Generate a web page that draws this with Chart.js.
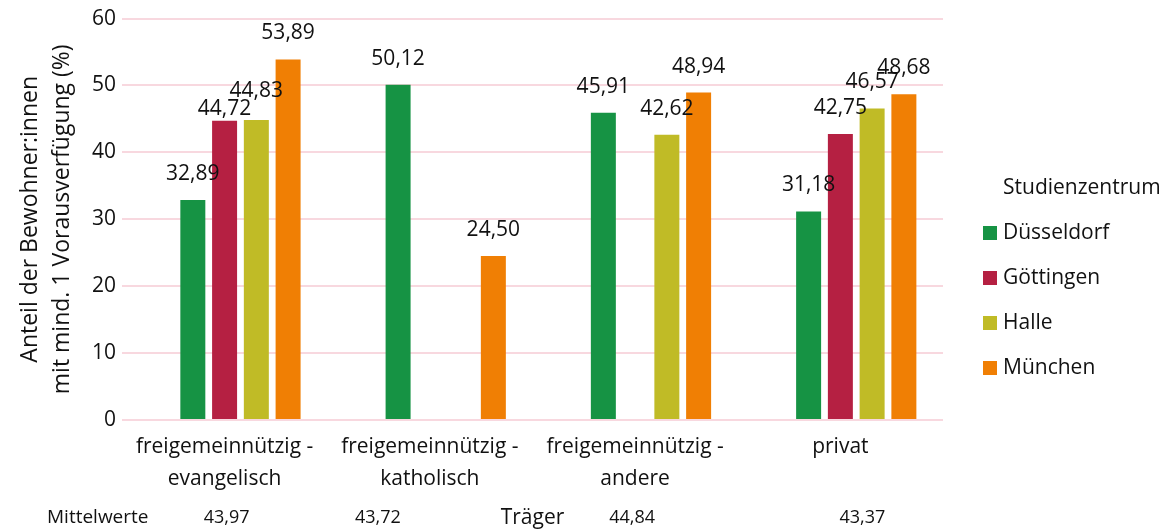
<!DOCTYPE html>
<html>
<head>
<meta charset="utf-8">
<script src="https://cdn.jsdelivr.net/npm/chart.js@4"></script>
<style>
  html, body { margin: 0; padding: 0; background: #fff; }
  #wrap { width: 1166px; height: 531px; }
</style>
</head>
<body>
<div id="wrap"><canvas id="c" width="1166" height="531"></canvas></div>
<script>
// ---- data ----
const categories = [
  ['freigemeinnützig -', 'evangelisch'],
  ['freigemeinnützig -', 'katholisch'],
  ['freigemeinnützig -', 'andere'],
  'privat'
];
const seriesNames = ['Düsseldorf', 'Göttingen', 'Halle', 'München'];
const duesseldorf = [32.89, 50.12, 45.91, 31.18];
const goettingen  = [44.72, null, null, 42.75];
const halle       = [44.83, null, 42.62, 46.57];
const muenchen    = [53.89, 24.50, 48.94, 48.68];
const mittelwerte = [43.97, 43.72, 44.84, 43.37];
const yTicks = [0, 10, 20, 30, 40, 50, 60];
const legendTitle = 'Studienzentrum';
const xTitle = 'Träger';
const yTitle = ['Anteil der Bewohner:innen', 'mit mind. 1 Vorausverfügung (%)'];
const meanLabel = 'Mittelwerte';

// ---- styles ----
const colors = ['#169344', '#B52042', '#C0BB26', '#F07F04'];
const FONT = '"Open Sans", "Noto Sans", sans-serif';
const TEXT = '#111';
const GRID = '#F8D8DF';

const fmt = v => v.toFixed(2).replace('.', ',');

const seriesData = [duesseldorf, goettingen, halle, muenchen];
const datasets = [
  // empty leading slot (as in the source chart, bars sit one slot to the right)
  { label: '', data: categories.map(() => null), backgroundColor: 'rgba(0,0,0,0)', spacer: true }
].concat(seriesNames.map((n, i) => ({
  label: n,
  data: seriesData[i],
  backgroundColor: colors[i],
  borderWidth: 0
})));

const labelNudge = { '2,0': 14, '3,0': -3 };

const valueLabels = {
  id: 'valueLabels',
  afterDatasetsDraw(chart) {
    const ctx = chart.ctx;
    ctx.save();
    ctx.font = '21px ' + FONT;
    ctx.fillStyle = TEXT;
    ctx.textAlign = 'center';
    ctx.textBaseline = 'middle';
    chart.data.datasets.forEach((ds, i) => {
      if (ds.spacer) return;
      const meta = chart.getDatasetMeta(i);
      meta.data.forEach((bar, j) => {
        const v = ds.data[j];
        if (v == null) return;
        const n = labelNudge[i + ',' + j] || 0;
        ctx.fillText(fmt(v), bar.x, bar.y - 26 + n);
      });
    });
    ctx.restore();
  }
};

const meanNudge = [2, -52, -3, 22];
const extras = {
  id: 'extras',
  afterDraw(chart) {
    const ctx = chart.ctx;
    const ca = chart.chartArea;
    const xs = chart.scales.x;
    ctx.save();
    // legend
    const lx = ca.right + 40;
    ctx.font = '21px ' + FONT;
    ctx.fillStyle = TEXT;
    ctx.textBaseline = 'middle';
    ctx.textAlign = 'left';
    ctx.fillText(legendTitle, lx + 20, 188);
    chart.data.datasets.filter(d => !d.spacer).forEach((ds, k) => {
      const cy = 233 + 45 * k;
      ctx.fillStyle = ds.backgroundColor;
      ctx.fillRect(lx, cy - 7, 14, 14);
      ctx.fillStyle = TEXT;
      ctx.fillText(ds.label, lx + 20, cy);
    });
    // Mittelwerte row
    ctx.font = '19px ' + FONT;
    ctx.textAlign = 'left';
    ctx.fillText(meanLabel, 47, 518);
    ctx.font = '18px ' + FONT;
    ctx.textAlign = 'center';
    mittelwerte.forEach((v, j) => {
      ctx.fillText(fmt(v), xs.getPixelForValue(j) + meanNudge[j], 518);
    });
    ctx.restore();
  }
};

new Chart(document.getElementById('c'), {
  type: 'bar',
  data: { labels: categories, datasets },
  options: {
    responsive: false,
    devicePixelRatio: 1,
    animation: false,
    layout: { padding: { top: 17, right: 223, bottom: 0, left: 0 } },
    datasets: { bar: { categoryPercentage: 0.7735, barPercentage: 0.787 } },
    plugins: {
      legend: { display: false },
      tooltip: { enabled: false }
    },
    scales: {
      x: {
        grid: { display: false, drawTicks: false },
        border: { display: false },
        ticks: {
          color: TEXT, font: { family: FONT, size: 21, lineHeight: 1.52 },
          padding: 11, maxRotation: 0, autoSkip: false
        },
        title: {
          display: true, text: xTitle, color: TEXT,
          font: { family: FONT, size: 21, lineHeight: 1.2 },
          padding: { top: 0, bottom: 0 }
        }
      },
      y: {
        min: 0, max: 60,
        afterBuildTicks: s => { s.ticks = yTicks.map(v => ({ value: v })); },
        grid: { color: GRID, lineWidth: 2, drawTicks: false },
        border: { display: false },
        ticks: { color: TEXT, font: { family: FONT, size: 21 }, padding: 6 },
        title: {
          display: true, text: yTitle, color: TEXT,
          font: { family: FONT, size: 23, lineHeight: 1.39 },
          padding: { top: 14, bottom: 8 }
        }
      }
    }
  },
  plugins: [valueLabels, extras]
});
</script>
</body>
</html>
